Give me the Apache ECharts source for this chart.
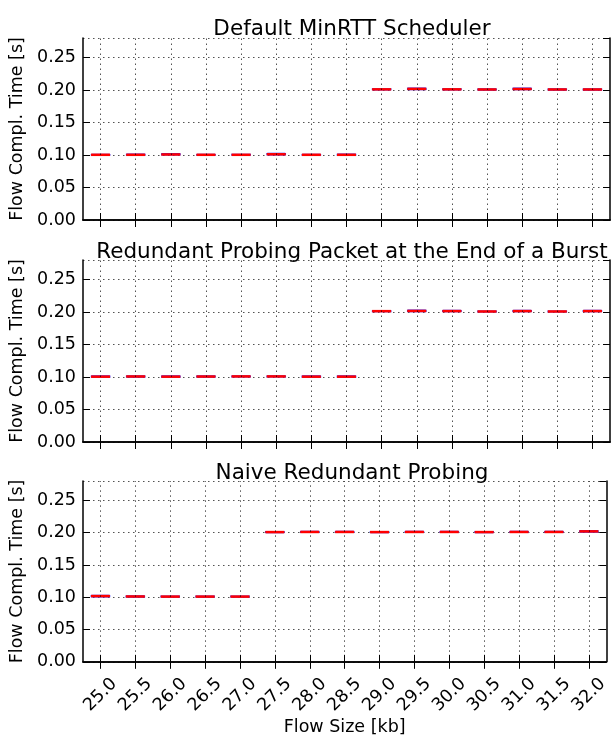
<!DOCTYPE html>
<html>
<head>
<meta charset="utf-8">
<script src="https://cdn.jsdelivr.net/npm/echarts@6/dist/echarts.min.js"></script>
<style>
html,body{margin:0;padding:0;background:#fff;}
#chart{width:611px;height:737px;}
</style>
</head>
<body>
<div id="chart"></div>
<script>
const flowSizes = ['25.0','25.5','26.0','26.5','27.0','27.5','28.0','28.5','29.0','29.5','30.0','30.5','31.0','31.5','32.0'];
const panelTitles = ['Default MinRTT Scheduler','Redundant Probing Packet at the End of a Burst','Naive Redundant Probing'];
const yTicks = [0.00, 0.05, 0.10, 0.15, 0.20, 0.25];
const yLabel = 'Flow Compl. Time [s]';
const xLabel = 'Flow Size [kb]';

// [min, Q1, median, Q3, max] per flow size
const defaultMinRtt = [
  [0.1000,0.1001,0.1003,0.1005,0.1008],
  [0.1000,0.1001,0.1003,0.1006,0.1009],
  [0.1003,0.1006,0.1008,0.1016,0.1020],
  [0.1000,0.1001,0.1003,0.1005,0.1008],
  [0.1000,0.1001,0.1003,0.1006,0.1008],
  [0.1004,0.1008,0.1011,0.1019,0.1023],
  [0.1000,0.1001,0.1003,0.1005,0.1008],
  [0.1000,0.1001,0.1003,0.1006,0.1009],
  [0.2006,0.2008,0.2010,0.2013,0.2016],
  [0.2010,0.2013,0.2017,0.2024,0.2028],
  [0.2005,0.2007,0.2010,0.2013,0.2016],
  [0.2000,0.2003,0.2008,0.2012,0.2015],
  [0.2008,0.2012,0.2015,0.2021,0.2025],
  [0.2000,0.2003,0.2008,0.2012,0.2016],
  [0.2000,0.2003,0.2008,0.2012,0.2015]
];
const redundantEndOfBurst = [
  [0.1000,0.1002,0.1005,0.1010,0.1014],
  [0.1002,0.1005,0.1008,0.1012,0.1016],
  [0.1000,0.1002,0.1005,0.1010,0.1014],
  [0.1001,0.1004,0.1007,0.1012,0.1016],
  [0.1004,0.1006,0.1009,0.1011,0.1014],
  [0.1004,0.1006,0.1009,0.1011,0.1014],
  [0.1000,0.1002,0.1005,0.1010,0.1014],
  [0.1000,0.1002,0.1005,0.1010,0.1014],
  [0.2008,0.2010,0.2013,0.2016,0.2019],
  [0.2010,0.2013,0.2016,0.2021,0.2025],
  [0.2008,0.2011,0.2014,0.2018,0.2022],
  [0.2004,0.2006,0.2008,0.2010,0.2012],
  [0.2008,0.2011,0.2014,0.2018,0.2022],
  [0.2004,0.2006,0.2008,0.2010,0.2012],
  [0.2008,0.2011,0.2014,0.2018,0.2022]
];
const naiveRedundant = [
  [0.1010,0.1014,0.1018,0.1022,0.1026],
  [0.1006,0.1009,0.1012,0.1015,0.1018],
  [0.1004,0.1007,0.1010,0.1013,0.1016],
  [0.1004,0.1007,0.1010,0.1013,0.1016],
  [0.1004,0.1007,0.1010,0.1013,0.1016],
  [0.2004,0.2006,0.2009,0.2012,0.2015],
  [0.2006,0.2008,0.2011,0.2014,0.2017],
  [0.2006,0.2008,0.2011,0.2014,0.2017],
  [0.2004,0.2006,0.2009,0.2012,0.2015],
  [0.2006,0.2008,0.2011,0.2014,0.2017],
  [0.2006,0.2008,0.2011,0.2014,0.2017],
  [0.2004,0.2006,0.2009,0.2012,0.2015],
  [0.2006,0.2008,0.2011,0.2014,0.2017],
  [0.2006,0.2008,0.2011,0.2014,0.2017],
  [0.2012,0.2016,0.2020,0.2025,0.2030]
];
const panelData = [defaultMinRtt, redundantEndOfBurst, naiveRedundant];

const FONT = 'DejaVu Sans';
const gridTops = [38, 260, 481];
const gridHeights = [182, 182, 181];
const titleTops = [13, 236, 457];
const dotted = {type:[1.5,3.5], color:'#000', width:0.8, opacity:0.85};
const axisLineStyle = {lineStyle:{color:'#000', width:1.5}};

const grids = [], xAxes = [], yAxes = [], series = [], titles = [];
panelData.forEach((boxes, p) => {
  grids.push({left:83, right:1, top:gridTops[p], height:gridHeights[p], containLabel:false});
  titles.push({text:panelTitles[p], left:347, textAlign:'center', top:titleTops[p],
    textStyle:{fontFamily:FONT, fontSize:21.5, fontWeight:'normal', color:'#000'}});
  const last = p === panelData.length - 1;
  // bottom x
  xAxes.push({type:'category', gridIndex:p, data:flowSizes, position:'bottom', boundaryGap:true,
    axisLine:axisLineStyle,
    axisTick:{show:true, inside:true, alignWithLabel:true, length:7, lineStyle:{color:'#000', width:1}},
    axisLabel:{show:last, rotate:45, align:'center', verticalAlign:'middle', margin:33,
      fontFamily:FONT, fontSize:17.5, color:'#000', interval:0},
    splitLine:{show:false},
    name:last ? xLabel : '', nameLocation:'middle', nameGap:51,
    nameTextStyle:{fontFamily:FONT, fontSize:17.5, color:'#000'}
  });
  // top x
  xAxes.push({type:'category', gridIndex:p, data:flowSizes, position:'top', boundaryGap:true,
    axisLine:axisLineStyle,
    axisTick:{show:true, inside:true, alignWithLabel:true, length:7, lineStyle:{color:'#000', width:1}},
    axisLabel:{show:false}, splitLine:{show:false}
  });
  // left y
  yAxes.push({type:'value', gridIndex:p, min:0, max:0.28, interval:0.05, position:'left',
    axisLine:{show:true, lineStyle:{color:'#000', width:1.5}},
    axisTick:{show:true, inside:true, length:7, lineStyle:{color:'#000', width:1}},
    axisLabel:{fontFamily:FONT, fontSize:17.5, color:'#000', margin:7, showMaxLabel:false,
      formatter:v => yTicks.some(t => Math.abs(t - v) < 1e-9) ? v.toFixed(2) : ''},
    splitLine:{show:true, lineStyle:dotted},
    name:yLabel, nameLocation:'middle', nameGap:54,
    nameTextStyle:{fontFamily:FONT, fontSize:17.5, color:'#000'}
  });
  // right y
  yAxes.push({type:'value', gridIndex:p, min:0, max:0.28, interval:0.05, position:'right',
    axisLine:{show:true, lineStyle:{color:'#000', width:1.5}},
    axisTick:{show:true, inside:true, length:7, lineStyle:{color:'#000', width:1}},
    axisLabel:{show:false}, splitLine:{show:false}
  });
  const xi = p*2, yi = p*2;
  // vertical dotted grid lines at category centres
  series.push({type:'scatter', xAxisIndex:xi, yAxisIndex:yi, data:[], z:1, silent:true,
    markLine:{silent:true, symbol:'none', animation:false, label:{show:false},
      lineStyle:dotted, data:flowSizes.map(c => ({xAxis:c}))}
  });
  series.push({type:'boxplot', xAxisIndex:xi, yAxisIndex:yi, data:boxes, z:3,
    boxWidth:[18,18],
    itemStyle:{color:'rgba(0,0,0,0)', borderColor:'#2a2aff', borderWidth:1.6},
    emphasis:{disabled:true}
  });
  series.push({type:'scatter', xAxisIndex:xi, yAxisIndex:yi, z:4,
    data:boxes.map(b => b[2]), symbol:'rect', symbolSize:[19,2.5],
    itemStyle:{color:'#ff0000', opacity:1}
  });
});

const chart = echarts.init(document.getElementById('chart'), null, {renderer:'canvas'});
chart.setOption({
  animation:false,
  backgroundColor:'#fff',
  title:titles,
  grid:grids,
  xAxis:xAxes,
  yAxis:yAxes,
  series:series
});
</script>
</body>
</html>
